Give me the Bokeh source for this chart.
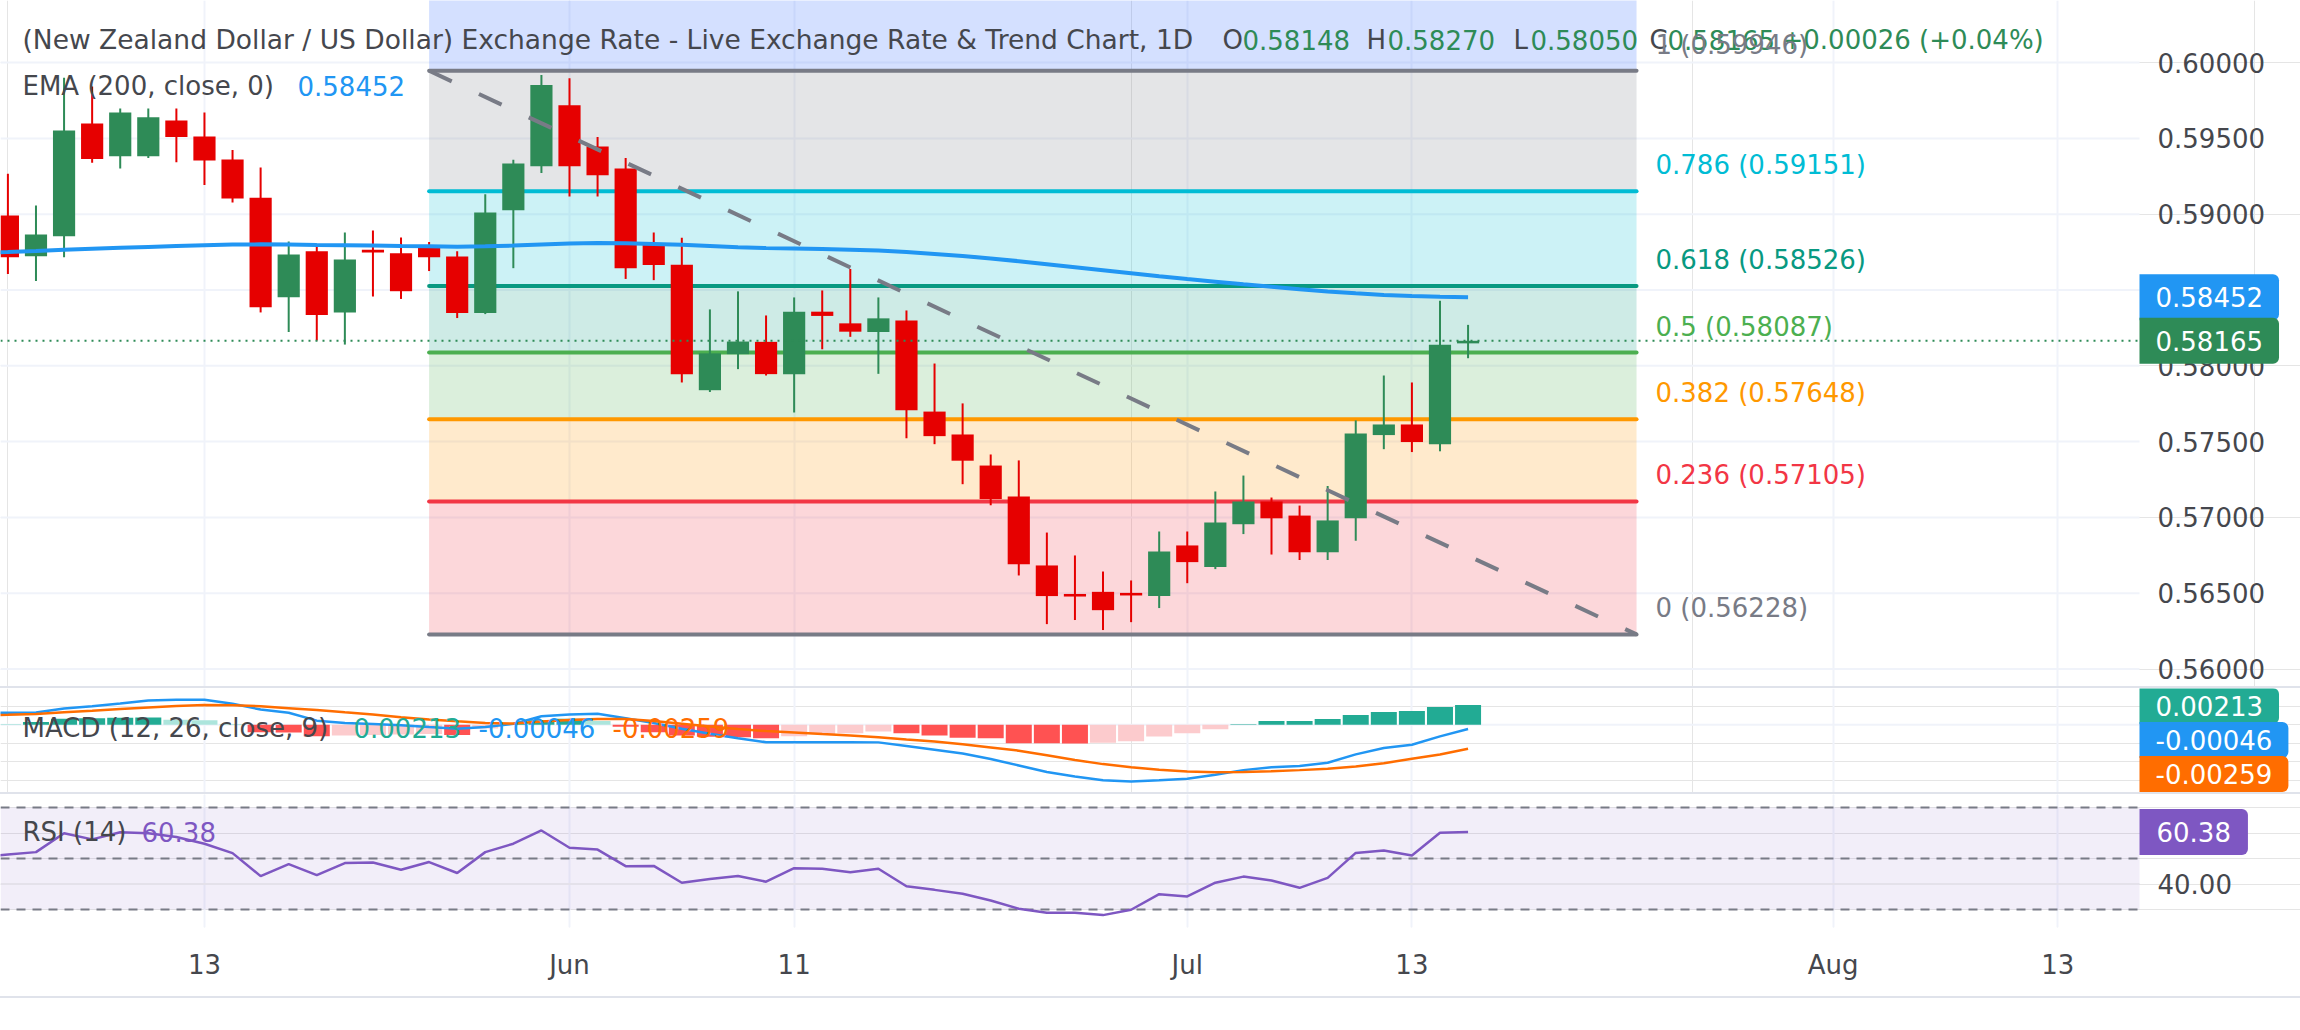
from bokeh.plotting import figure
from bokeh.layouts import column
from bokeh.models import (Range1d, FixedTicker, Grid, Label, PrintfTickFormatter, LinearAxis,
                          Div, ColumnDataSource, BoxAnnotation)
from bokeh.embed import file_html
from bokeh.resources import INLINE

# ---------------- data ----------------
bar_index = list(range(-20, 33))          # daily bars, bar 0 = 1 Jun
time_tick_bars = [-13, 0, 8, 22, 30, 45, 53]
time_tick_labels = ["13", "Jun", "11", "Jul", "13", "Aug", "13"]

opens = [0.58991, 0.58723, 0.58854, 0.59598, 0.59382, 0.59382, 0.59618, 0.59513, 0.59361, 0.59109,
         0.58453, 0.58755, 0.58352, 0.58765, 0.58742, 0.58794, 0.58721, 0.58348, 0.59026, 0.59317,
         0.59719, 0.59447, 0.59302, 0.58801, 0.58667, 0.57839, 0.58077, 0.58158, 0.57945, 0.58357,
         0.58280, 0.58223, 0.58299, 0.57698, 0.57547, 0.57342, 0.57138, 0.56683, 0.56495, 0.56509,
         0.56502, 0.56481, 0.56815, 0.56673, 0.56955, 0.57105, 0.57012, 0.56770, 0.56994, 0.57543,
         0.57613, 0.57483, 0.58148]
highs = [0.59267, 0.59058, 0.59900, 0.59842, 0.59697, 0.59697, 0.59697, 0.59671, 0.59424, 0.59308,
         0.58820, 0.58803, 0.58880, 0.58893, 0.58846, 0.58817, 0.58755, 0.59132, 0.59359, 0.59918,
         0.59897, 0.59510, 0.59370, 0.58880, 0.58845, 0.58372, 0.58491, 0.58332, 0.58451, 0.58497,
         0.58639, 0.58451, 0.58365, 0.58015, 0.57752, 0.57415, 0.57376, 0.56900, 0.56749, 0.56643,
         0.56584, 0.56907, 0.56907, 0.57171, 0.57276, 0.57131, 0.57078, 0.57207, 0.57640, 0.57936,
         0.57890, 0.58429, 0.58270]
lows = [0.58605, 0.58559, 0.58716, 0.59340, 0.59301, 0.59370, 0.59343, 0.59193, 0.59077, 0.58352,
        0.58223, 0.58167, 0.58140, 0.58457, 0.58441, 0.58625, 0.58315, 0.58341, 0.58644, 0.59271,
        0.59117, 0.59117, 0.58573, 0.58565, 0.57890, 0.57827, 0.57978, 0.57936, 0.57692, 0.58109,
        0.58191, 0.57947, 0.57522, 0.57483, 0.57219, 0.57080, 0.56617, 0.56296, 0.56323, 0.56257,
        0.56309, 0.56402, 0.56566, 0.56659, 0.56890, 0.56755, 0.56719, 0.56719, 0.56846, 0.57450,
        0.57431, 0.57436, 0.58050]
closes = [0.58716, 0.58866, 0.59552, 0.59364, 0.59671, 0.59639, 0.59510, 0.59354, 0.59104, 0.58387,
          0.58734, 0.58335, 0.58702, 0.58748, 0.58492, 0.58716, 0.58348, 0.59012, 0.59334, 0.59852,
          0.59317, 0.59257, 0.58644, 0.58665, 0.57945, 0.58082, 0.58160, 0.57945, 0.58357, 0.58329,
          0.58225, 0.58313, 0.57707, 0.57536, 0.57374, 0.57121, 0.56691, 0.56481, 0.56478, 0.56388,
          0.56485, 0.56775, 0.56705, 0.56967, 0.57105, 0.56994, 0.56770, 0.56980, 0.57554, 0.57613,
          0.57497, 0.58139, 0.58165]

ind_index = list(range(-21, 33))
ema200 = [0.58746, 0.58751, 0.58757, 0.58765, 0.58772, 0.58778, 0.58784, 0.58790, 0.58795, 0.58800,
          0.58801, 0.58800, 0.58797, 0.58795, 0.58793, 0.58790, 0.58788, 0.58786, 0.58788, 0.58793,
          0.58800, 0.58806, 0.58810, 0.58808, 0.58804, 0.58798, 0.58790, 0.58782, 0.58777, 0.58774,
          0.58770, 0.58765, 0.58760, 0.58750, 0.58738, 0.58725, 0.58708, 0.58690, 0.58670, 0.58650,
          0.58630, 0.58610, 0.58590, 0.58572, 0.58555, 0.58538, 0.58522, 0.58505, 0.58490, 0.58478,
          0.58467, 0.58460, 0.58455, 0.58452]
macd_line = [0.00130, 0.00130, 0.00132, 0.00175, 0.00200, 0.00230, 0.00262, 0.00272, 0.00270, 0.00228,
             0.00165, 0.00130, 0.00045, 0.00020, 0.00008, -0.00005, -0.00025, -0.00043, -0.00025, 0.00010,
             0.00093, 0.00112, 0.00119, 0.00071, 0.00020, -0.00043, -0.00097, -0.00145, -0.00188, -0.00188,
             -0.00188, -0.00188, -0.00190, -0.00230, -0.00270, -0.00310, -0.00370, -0.00440, -0.00510, -0.00560,
             -0.00600, -0.00612, -0.00600, -0.00584, -0.00540, -0.00490, -0.00460, -0.00446, -0.00410, -0.00320,
             -0.00250, -0.00216, -0.00125, -0.00046]
signal_line = [0.00105, 0.00108, 0.00118, 0.00135, 0.00152, 0.00170, 0.00188, 0.00202, 0.00213, 0.00212,
               0.00200, 0.00180, 0.00160, 0.00135, 0.00112, 0.00082, 0.00058, 0.00038, 0.00020, 0.00014,
               0.00035, 0.00052, 0.00064, 0.00062, 0.00040, 0.00012, -0.00018, -0.00045, -0.00068, -0.00082,
               -0.00100, -0.00117, -0.00135, -0.00158, -0.00180, -0.00210, -0.00245, -0.00280, -0.00330, -0.00380,
               -0.00425, -0.00458, -0.00485, -0.00505, -0.00512, -0.00510, -0.00501, -0.00490, -0.00476, -0.00451,
               -0.00415, -0.00368, -0.00321, -0.00259]
rsi14 = [50.5, 51.6, 52.5, 59.9, 57.5, 60.3, 59.9, 58.4, 55.8, 52.1,
         43.1, 47.8, 43.5, 48.2, 48.4, 45.6, 48.6, 44.3, 52.5, 55.8,
         61.0, 54.2, 53.5, 47.0, 47.1, 40.5, 42.0, 43.1, 40.9, 46.2,
         46.0, 44.6, 46.0, 39.1, 37.7, 36.2, 33.5, 30.3, 28.7, 28.7,
         27.8, 29.9, 36.0, 35.1, 40.5, 42.9, 41.4, 38.5, 42.4, 52.2,
         53.1, 51.2, 60.1, 60.38]
macd_hist = [0.00010, 0.00030, 0.00065, 0.00070, 0.00075, 0.00078, 0.00054, 0.00050, 0.00010, -0.00080,
             -0.00082, -0.00123, -0.00115, -0.00110, -0.00105, -0.00100, -0.00110, -0.00040, 0.00020, 0.00050,
             0.00065, 0.00040, -0.00020, -0.00080, -0.00115, -0.00130, -0.00135, -0.00145, -0.00123, -0.00100,
             -0.00090, -0.00072, -0.00090, -0.00115, -0.00140, -0.00145, -0.00199, -0.00200, -0.00201, -0.00195,
             -0.00177, -0.00127, -0.00090, -0.00047, 0.00005, 0.00040, 0.00041, 0.00062, 0.00105, 0.00138,
             0.00149, 0.00192, 0.00213]

fib_ratios = [1, 0.786, 0.618, 0.5, 0.382, 0.236, 0]
fib_prices = [0.59946, 0.59151, 0.58526, 0.58087, 0.57648, 0.57105, 0.56228]
fib_start_bar, fib_end_bar = -5, 38
price_ticks = [0.560, 0.565, 0.570, 0.575, 0.580, 0.585, 0.590, 0.595, 0.600]
rsi_levels = [70, 50, 30]
rsi_ticks = [40]

title_text = "(New Zealand Dollar / US Dollar) Exchange Rate - Live Exchange Rate & Trend Chart, 1D"

# ---------------- style / layout ----------------
FONT = "DejaVu Sans"
FS = "26px"
TXT = "#45474d"
UP = "#2e8b57"
DOWN = "#e60000"
GRID = "#f0f3fa"
SEP = "#e0e3eb"
fib_colors = ["#787b86", "#00bcd4", "#089981", "#4caf50", "#ff9800", "#f23645", "#787b86"]

PX0, PXB, PANE_W, W = 569.0, 28.08, 2139, 2300


def bx(px):
    return (px - PX0) / PXB


def py_main(py):
    return 0.56 + (668.5 - py) / 15160.0


def py_macd(py):
    return (724.3 - py) / 9250.0


def py_rsi(py):
    return 70 - (py - 807) / 2.55


x_lo, x_hi, x_pane = bx(0), bx(W), bx(PANE_W)


def make_fig(height, y_range, bottom=0, xaxis=False):
    f = figure(width=W, height=height, x_range=Range1d(x_lo, x_hi), y_range=y_range,
               toolbar_location=None, output_backend="svg",
               x_axis_location="below" if xaxis else None, y_axis_location=None,
               min_border_left=0, min_border_right=0, min_border_top=0, min_border_bottom=bottom)
    f.outline_line_color = None
    f.background_fill_color = "white"
    f.border_fill_color = "white"
    f.add_layout(Grid(dimension=0, ticker=FixedTicker(ticks=time_tick_bars),
                      grid_line_color=GRID, grid_line_width=2))
    return f


def style_axis(ax, standoff):
    ax.axis_line_color = None
    ax.major_tick_line_color = None
    ax.minor_tick_line_color = None
    ax.major_tick_out = 0
    ax.minor_tick_out = 0
    ax.major_tick_in = 0
    ax.minor_tick_in = 0
    ax.major_label_standoff = standoff
    ax.major_label_text_font = FONT
    ax.major_label_text_font_size = FS
    ax.major_label_text_color = TXT


def price_scale(f, ticks, fmt):
    ax = LinearAxis(fixed_location=x_pane, ticker=FixedTicker(ticks=ticks),
                    formatter=PrintfTickFormatter(format=fmt))
    style_axis(ax, 18)
    f.add_layout(ax, "right")
    return ax


def hgrid(f, ticks, color=GRID):
    f.segment(x0=[x_lo] * len(ticks), x1=[x_pane] * len(ticks), y0=ticks, y1=ticks,
              line_color=color, line_width=2)


def add_label(f, px, y, text, color, size=FS, bg=None, pad=None):
    kw = dict(x=bx(px), y=y, text=text, text_color=color, text_font=FONT,
              text_font_size=size, text_align="left", text_baseline="middle")
    if bg is not None:
        kw.update(background_fill_color=bg, background_fill_alpha=1.0,
                  padding=pad, border_radius=dict(top_left=0, top_right=6, bottom_right=6, bottom_left=0))
    f.add_layout(Label(**kw))


# ---------------- main price pane ----------------
main = make_fig(686, Range1d(py_main(686), py_main(0)))
hgrid(main, price_ticks)
price_scale(main, price_ticks, "%.5f")

# blue band above the fib and fib bands
main.quad(left=[fib_start_bar], right=[fib_end_bar], bottom=[fib_prices[0]], top=[py_main(-50)],
          fill_color="#2962ff", fill_alpha=0.2, line_color=None)
main.quad(left=[fib_start_bar] * 6, right=[fib_end_bar] * 6,
          bottom=fib_prices[1:], top=fib_prices[:-1],
          fill_color=fib_colors[:6], fill_alpha=0.2, line_color=None)
for price, col in zip(fib_prices, fib_colors):
    main.line([fib_start_bar, fib_end_bar], [price, price], line_color=col, line_width=4,
              line_cap="round")

# candles
body_top = [max(o, c) for o, c in zip(opens, closes)]
body_bot = [min(o, c) for o, c in zip(opens, closes)]
colors = [UP if c >= o else DOWN for o, c in zip(opens, closes)]
csrc = ColumnDataSource(dict(x=bar_index, top=body_top, bottom=body_bot, high=highs, low=lows, color=colors))
main.segment(x0="x", y0="low", x1="x", y1="high", line_color="color", line_width=2, source=csrc)
main.vbar(x="x", top="top", bottom="bottom", width=0.79, fill_color="color", line_color=None, source=csrc)

# trend line of the fib
main.line([fib_start_bar, fib_end_bar], [fib_prices[0], fib_prices[-1]], line_color="#787b86",
          line_width=4, line_dash="25 30")

# EMA
main.line(ind_index, ema200, line_color="#2196f3", line_width=4)

# current price line
main.segment(x0=[x_lo], x1=[x_pane], y0=[closes[-1]], y1=[closes[-1]], line_color=UP,
             line_width=2, line_dash="2 5")

# header texts
add_label(main, 22, py_main(39), title_text, TXT, size="26.5px")
chg = closes[-1] - closes[-2]
pct = chg / closes[-2] * 100
for px, t, c in [(1222, "O", TXT), (1242, f"{opens[-1]:.5f}", UP),
                 (1366, "H", TXT), (1387, f"{highs[-1]:.5f}", UP),
                 (1513, "L", TXT), (1530, f"{lows[-1]:.5f}", UP),
                 (1649, "C", TXT), (1667, f"{closes[-1]:.5f}", UP),
                 (1781, f"{chg:+.5f} ({pct:+.2f}%)", UP)]:
    add_label(main, px, py_main(39), t, c)
add_label(main, 22, py_main(85), "EMA (200, close, 0)", TXT)
add_label(main, 297, py_main(85), f"{ema200[-1]:.5f}", "#2196f3")

# fib labels
for r, price, col in zip(fib_ratios, fib_prices, fib_colors):
    add_label(main, 1655, price + 26 / 15160.0, f"{r:g} ({price:.5f})", col)

# price-scale tags
pad_main = dict(left=16, right=16, top=13, bottom=13)
add_label(main, PANE_W, ema200[-1], f"{ema200[-1]:.5f}", "white", bg="#2196f3", pad=pad_main)
add_label(main, PANE_W, closes[-1], f"{closes[-1]:.5f}", "white", bg=UP, pad=pad_main)

# ---------------- MACD pane ----------------
macd = make_fig(104, Range1d(py_macd(792), py_macd(688)))
hgrid(macd, [0])
hcol = []
for k, h in enumerate(macd_hist):
    prev = macd_hist[k - 1] if k > 0 else h
    if h >= 0:
        hcol.append("#22ab94" if h > prev else "#ace5dc")
    else:
        hcol.append("#ff5252" if h < prev else "#fccbcd")
macd.vbar(x=bar_index, top=macd_hist, bottom=0, width=0.926, fill_color=hcol, line_color=None)
macd.line(ind_index, macd_line, line_color="#2196f3", line_width=2.5)
macd.line(ind_index, signal_line, line_color="#ff6d00", line_width=2.5)
add_label(macd, 22, py_macd(727), "MACD (12, 26, close, 9)", TXT)
add_label(macd, 353, py_macd(727), f"{macd_hist[-1]:.5f}", "#22ab94")
add_label(macd, 478, py_macd(727), f"{macd_line[-1]:.5f}", "#2196f3")
add_label(macd, 612, py_macd(727), f"{signal_line[-1]:.5f}", "#ff6d00")
# stacked value tags (kept inside the pane)
pad_s = dict(left=16, right=16, top=8, bottom=8)
add_label(macd, PANE_W, py_macd(705.5), f"{macd_hist[-1]:.5f}", "white", bg="#22ab94", pad=pad_s)
add_label(macd, PANE_W, py_macd(739.5), f"{macd_line[-1]:.5f}", "white", bg="#2196f3", pad=pad_s)
add_label(macd, PANE_W, py_macd(773.5), f"{signal_line[-1]:.5f}", "white", bg="#ff6d00", pad=pad_s)

# ---------------- RSI pane ----------------
rsi = make_fig(202, Range1d(py_rsi(927), py_rsi(794)), bottom=69, xaxis=True)
style_axis(rsi.xaxis[0], 22)
rsi.xaxis.ticker = FixedTicker(ticks=time_tick_bars)
rsi.xaxis.major_label_overrides = {b: l for b, l in zip(time_tick_bars, time_tick_labels)}
rsi.add_layout(BoxAnnotation(bottom=rsi_levels[2], top=rsi_levels[0], right=x_pane, fill_color="#7e57c2",
                             fill_alpha=0.1, line_color=None, level="underlay"))
hgrid(rsi, rsi_ticks, color="#e4e1ea")
price_scale(rsi, rsi_ticks, "%.2f")
n = len(rsi_levels)
rsi.segment(x0=[x_lo] * n, x1=[x_pane] * n, y0=rsi_levels, y1=rsi_levels, line_color="#787b86",
            line_width=2, line_dash="9 7")
rsi.line(ind_index, rsi14, line_color="#7e57c2", line_width=2.5)
add_label(rsi, 22, py_rsi(831), "RSI (14)", TXT)
add_label(rsi, 141, py_rsi(831), f"{rsi14[-1]:.2f}", "#7e57c2")
add_label(rsi, PANE_W, rsi14[-1], f"{rsi14[-1]:.2f}", "white", bg="#7e57c2",
          pad=dict(left=17, right=17, top=13, bottom=13))


def sep(h, color):
    return Div(width=W, height=h, margin=(0, 0, 0, 0), styles={"background-color": color})


layout = column(main, sep(2, SEP), macd, sep(2, SEP), rsi, sep(2, SEP), sep(32, "white"), spacing=0)
open("out.html", "w").write(file_html(layout, INLINE, title="NZD/USD"))
